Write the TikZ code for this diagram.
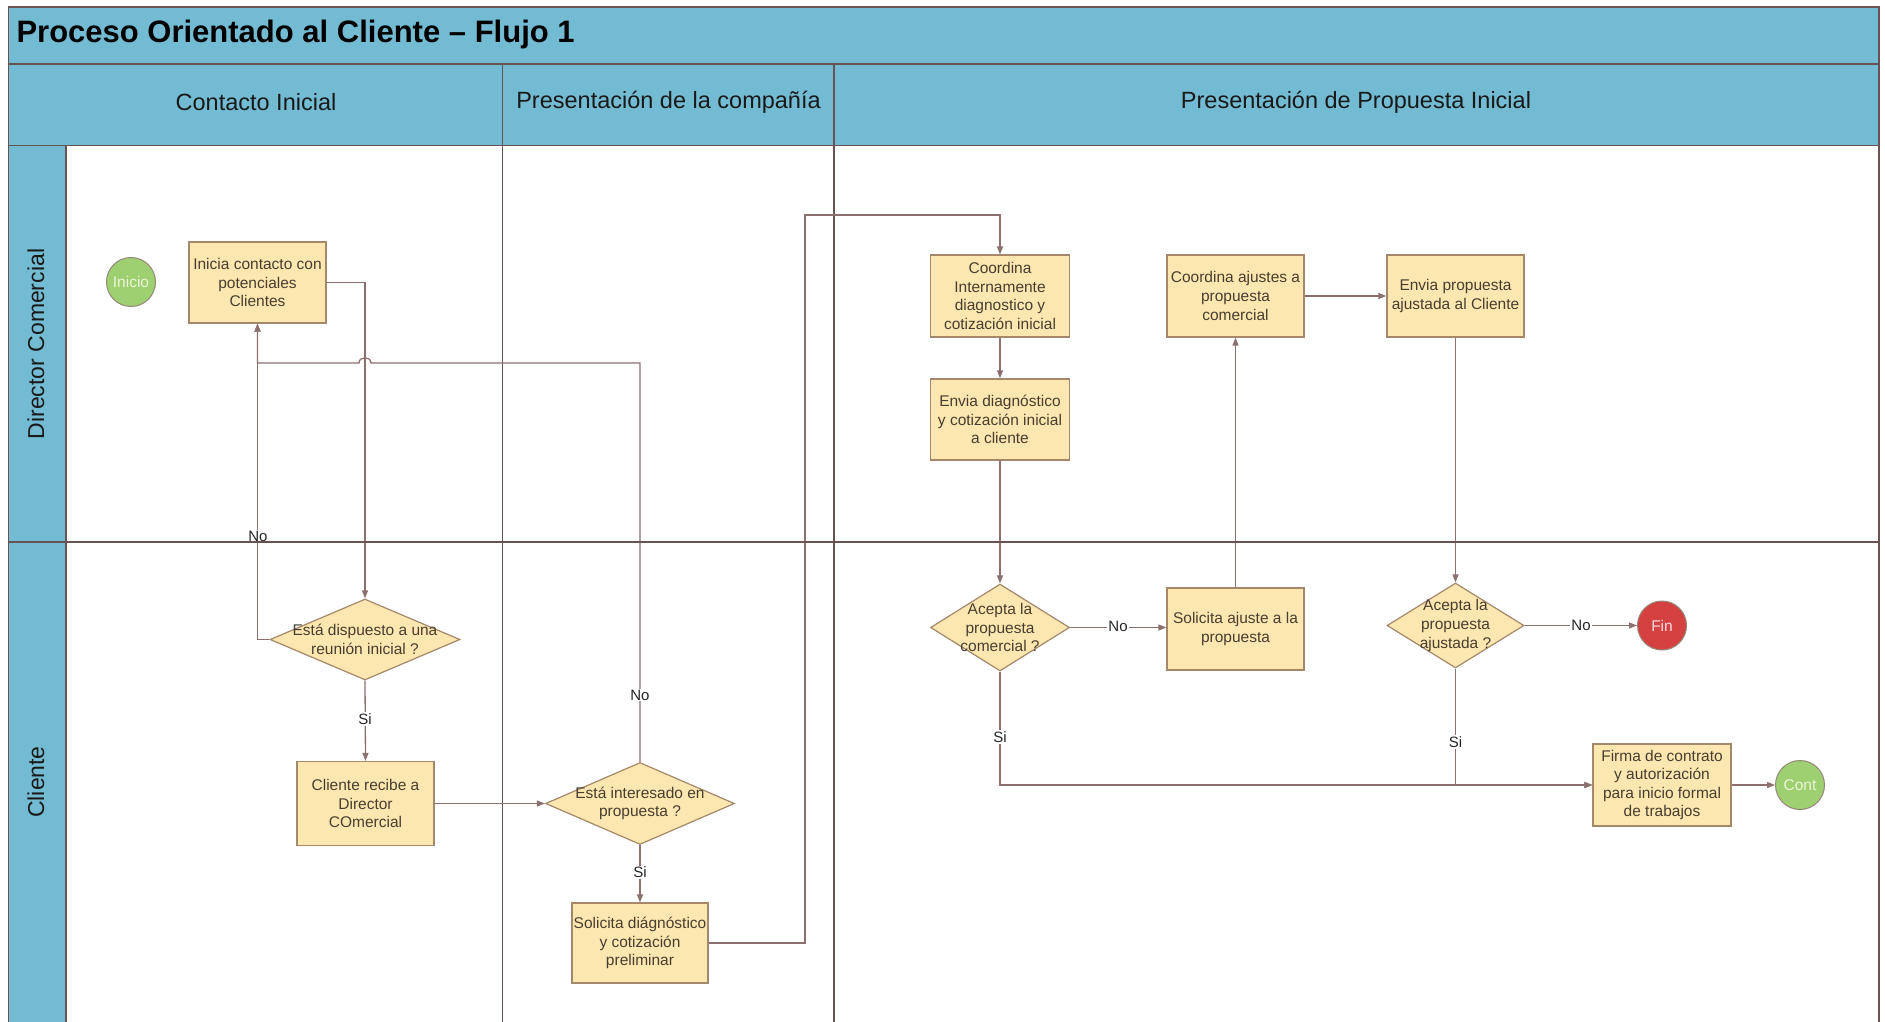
\documentclass[tikz,border=0pt]{standalone}
\usepackage{fontspec}
\setmainfont{Liberation Sans}
\usetikzlibrary{shapes.geometric,arrows.meta}
\definecolor{hdr}{RGB}{115,187,210}
\definecolor{grid}{RGB}{105,82,82}
\definecolor{conn}{RGB}{140,112,112}
\definecolor{boxfill}{RGB}{253,231,176}
\definecolor{boxline}{RGB}{165,135,105}
\definecolor{boxtext}{RGB}{72,62,48}
\definecolor{greenc}{RGB}{158,207,112}
\definecolor{redc}{RGB}{213,64,64}
\definecolor{termline}{RGB}{150,135,120}
\definecolor{greentext}{RGB}{236,245,214}
\definecolor{redtext}{RGB}{250,220,225}
\begin{document}
\begin{tikzpicture}[x=1pt,y=-1pt,
  gridline/.style={draw=grid, line width=1.6pt},
  box/.style={draw=boxline, fill=boxfill, line width=1.2pt, minimum width=137pt, minimum height=81pt,
    inner sep=0pt, align=center, font=\fontsize{15.5}{18.6}\selectfont, text=boxtext},
  dia/.style={diamond, draw=boxline, fill=boxfill, line width=1.2pt, inner sep=0pt},
  diatxt/.style={align=center, font=\fontsize{15.5}{18.6}\selectfont, text=boxtext},
  term/.style={circle, minimum size=49pt, inner sep=0pt, draw=termline, line width=1pt,
    font=\fontsize{15.5}{18}\selectfont},
  conn/.style={draw=conn, line width=1.3pt, -{Triangle[length=8pt,width=6pt]}},
  lbl/.style={fill=white, inner sep=1pt, font=\fontsize{15}{18}\selectfont, text=black!85},
  hdrtxt/.style={font=\fontsize{23.5}{28}\selectfont, text=black!90}
]
\useasboundingbox (0,0) rectangle (1885,1022);
% ---- swimlane frame
\fill[hdr] (8.4,7) rectangle (1879,145.5);
\fill[hdr] (8.4,145.5) rectangle (66,1022);
\draw[gridline] (8.4,1022) -- (8.4,7) -- (1879,7) -- (1879,1022);
\draw[gridline] (8.4,64) -- (1879,64);
\draw[gridline] (8.4,145.5) -- (1879,145.5);
\draw[gridline] (66,145.5) -- (66,1022);
\draw[gridline] (502.5,64) -- (502.5,1022);
\draw[gridline] (834,64) -- (834,1022);
\node[anchor=west, font=\bfseries\fontsize{31}{36}\selectfont, text=black] (title) at (13,34) {Proceso Orientado al Cliente – Flujo 1};
\node[hdrtxt] (h1) at (256,102) {Contacto Inicial};
\node[hdrtxt] (h2) at (668.5,102) {Presentación de la compañía};
\node[hdrtxt] (h3) at (1356,102) {Presentación de Propuesta Inicial};
\node[hdrtxt, rotate=90, font=\fontsize{23}{28}\selectfont] (l1) at (36,344) {Director Comercial};
\node[hdrtxt, rotate=90, font=\fontsize{23}{28}\selectfont] (l2) at (36,782) {Cliente};
% ---- nodes
\node[term, fill=greenc, text=greentext] (inicio) at (131,282) {Inicio};
\node[box] (inicia) at (257.5,282.5) {Inicia contacto con\\potenciales\\Clientes};
\node[dia, minimum width=190pt, minimum height=81pt,
  label={[diatxt]center:{Está dispuesto a una\\reunión inicial ?}}] (d1) at (365,639.5) {};
\node[box, minimum height=84pt] (recibe) at (365.5,803.5) {Cliente recibe a\\Director\\COmercial};
\node[dia, minimum width=189pt, minimum height=82pt,
  label={[diatxt]center:{Está interesado en\\propuesta ?}}] (d2) at (640,803.5) {};
\node[box, minimum width=136pt, minimum height=80pt] (solprel) at (640,943) {Solicita diágnóstico\\y cotización\\preliminar};
\node[box, minimum width=139pt, minimum height=82pt] (coord) at (1000,296) {Coordina\\Internamente\\diagnostico y\\cotización inicial};
\node[box, minimum width=139pt] (envdiag) at (1000,419.5) {Envia diagnóstico\\y cotización inicial\\a cliente};
\node[dia, minimum width=139pt, minimum height=87pt,
  label={[diatxt]center:{Acepta la\\propuesta\\comercial ?}}] (d3) at (1000,627.5) {};
\node[box, minimum height=82pt] (coordaj) at (1235.5,296) {Coordina ajustes a\\propuesta\\comercial};
\node[box, minimum height=82pt] (solaj) at (1235.5,629) {Solicita ajuste a la\\propuesta};
\node[box, minimum height=82pt] (envprop) at (1455.5,296) {Envia propuesta\\ajustada al Cliente};
\node[dia, minimum width=137pt, minimum height=85pt,
  label={[diatxt]center:{Acepta la\\propuesta\\ajustada ?}}] (d4) at (1455.5,625.5) {};
\node[term, fill=redc, text=redtext] (fin) at (1662,625.5) {Fin};
\node[box, minimum width=138pt, minimum height=82pt] (firma) at (1662,785) {Firma de contrato\\y autorización\\para inicio formal\\de trabajos};
\node[term, fill=greenc, text=greentext] (cont) at (1800,785) {Cont};
% ---- connectors
\coordinate (e1) at (805,215);
\coordinate (jr) at (371,363);
\coordinate (jl) at (359,363);
\draw[conn] (inicia.east) -| (d1.north);
\draw[conn] (d1.west) -| (inicia.south);
\draw[conn] (d2.north) |- (jr) .. controls (371,356) and (359,356) .. (jl) -| (inicia.south);
\draw[conn] (d1.south) -- (recibe.north);
\draw[conn] (recibe.east) -- (d2.west);
\draw[conn] (d2.south) -- (solprel.north);
\draw[conn] (solprel.east) -| (e1) -| (coord.north);
\draw[conn] (coord.south) -- (envdiag.north);
\draw[conn] (envdiag.south) -- (d3.north);
\draw[conn] (d3.east) -- (d3.east -| solaj.west);
\draw[conn] (solaj.north) -- (coordaj.south);
\draw[conn] (coordaj.east) -- (envprop.west);
\draw[conn] (envprop.south) -- (d4.north);
\draw[conn] (d4.east) -- (fin.west);
\draw[conn] (d3.south) |- (firma.west);
\draw[conn] (d4.south) |- (firma.west);
\draw[conn] (firma.east) -- (cont.west);
% ---- labels
\node[lbl] (n1) at (258,536) {No};
\node[lbl] (n2) at (640,695) {No};
\node[lbl] (s1) at (365,719) {Si};
\node[lbl] (s2) at (640,872) {Si};
\node[lbl] (n3) at (1118,626) {No};
\node[lbl] (s3) at (1000,737) {Si};
\node[lbl] (s4) at (1455.5,742) {Si};
\node[lbl] (n4) at (1581,625.5) {No};
% lane divider drawn over the connectors, as in the reference
\draw[gridline] (8.4,542) -- (1879,542);
\end{tikzpicture}
\end{document}
